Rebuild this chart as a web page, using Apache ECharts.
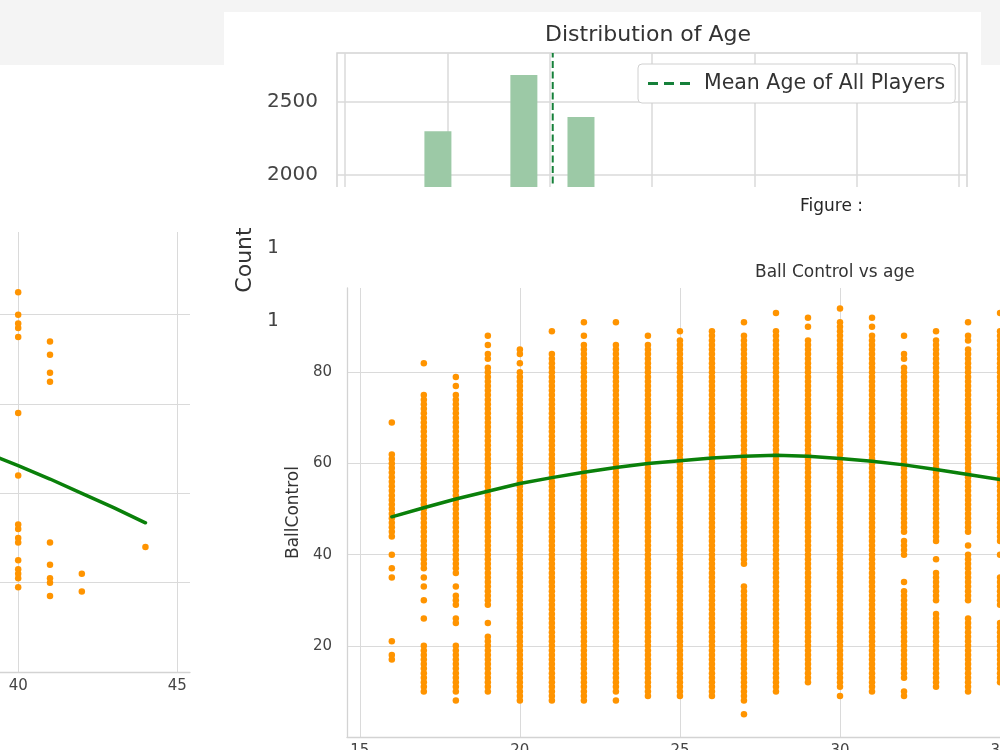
<!DOCTYPE html>
<html>
<head>
<meta charset="utf-8">
<title>Ball Control vs age</title>
<script src="https://cdn.jsdelivr.net/npm/echarts@6/dist/echarts.min.js"></script>
<style>
  html, body { margin: 0; padding: 0; background: #fff; }
  body { position: relative; width: 1000px; height: 750px; overflow: hidden; }
  .band { position: absolute; background: #f4f4f4; }
  .panel { position: absolute; background: #fff; }
  #band-top { left: 0; top: 0; width: 1000px; height: 12px; }
  #band-left { left: 0; top: 12px; width: 224px; height: 53px; }
  #band-right { left: 981px; top: 12px; width: 19px; height: 53px; }
  #left-chart { left: 0; top: 65px; width: 224px; height: 685px; z-index: 1; }
  #hist-chart { left: 224px; top: 12px; width: 757px; height: 500px; z-index: 2; }
  #scatter-chart { left: 277px; top: 187px; width: 723px; height: 563px; z-index: 3; }
</style>
</head>
<body>
<div class="band" id="band-top"></div>
<div class="band" id="band-left"></div>
<div class="band" id="band-right"></div>
<div class="panel" id="left-chart"></div>
<div class="panel" id="hist-chart"></div>
<div class="panel" id="scatter-chart"></div>

<script>
// ---- Distribution of Age (only the bins above the cut-off edge can be read)
const histBinCenters = [19.54, 23.74, 26.53];
const histCounts = [2300, 2685, 2397];
const meanAge = 25.15;
const histYMax = 2836;

// ---- Ball Control vs age
// one entry per age column; a [lo, hi] pair is a solid stripe of scores
const scatterAges = [16, 17, 18, 19, 20, 21, 22, 23, 24, 25, 26, 27, 28, 29, 30, 31, 32, 33, 34, 35, 40, 41, 42, 44];
const scatterReadings = [
  [[44, 62], 69, 40, 37, 35, 21, 18, 17],
  [82, [38, 75], 37, 35, 33, 30, 26, [10, 20]],
  [79, 77, [36, 75], 33, [29, 31], [25, 26], [10, 20], 8],
  [88, 86, [83, 84], [29, 81], 25, [10, 22]],
  [85, 84, 82, [8, 80]],
  [89, [8, 84]],
  [91, 88, [8, 86]],
  [91, [10, 86], 8],
  [88, [9, 86]],
  [89, [9, 87]],
  [[9, 89]],
  [91, [38, 88], [8, 33], 5],
  [93, [10, 89]],
  [92, 90, [12, 87]],
  [94, [11, 91], 9],
  [92, 90, 88, 87, [10, 86]],
  [88, [83, 84], [45, 81], [40, 43], 34, [13, 32], [9, 10]],
  [89, [43, 87], 39, [30, 36], [11, 27]],
  [91, 88, 87, [45, 85], 42, [30, 40], [10, 26]],
  [93, [43, 89], 40, [29, 35], [12, 25]],
  [85, 80, 78, 77, 75, 58, 44, 33, 32, 30, 29, 25, 23, 22, 21, 19],
  [74, 71, 67, 65, 29, 24, 21, 20, 17],
  [22, 18],
  [28]
];
// order-2 fit line
const fitAges = [16, 17, 18, 19, 20, 21, 22, 23, 24, 25, 26, 27, 28, 29, 30, 31, 32, 33, 34, 35, 39, 40, 41, 42, 43, 44];
const fitValues = [48.3, 50.3, 52.2, 53.9, 55.6, 56.9, 58.1, 59.1, 60, 60.6, 61.2, 61.6, 61.8, 61.6, 61.1, 60.5, 59.7, 58.7, 57.6, 56.5, 49.0, 46.2, 43.2, 40.0, 36.8, 33.4];

const ageMin = 14.6;
const ageMax = 45.4;
const ballMax = 98.5;

const FONT = 'DejaVu Sans';
const GRID_COLOR = '#dadada';
const ORANGE = '#ff9400';
const GREEN = '#0a800a';

function expandReadings(ages, readings) {
  const pts = [];
  ages.forEach((age, i) => {
    readings[i].forEach(r => {
      if (Array.isArray(r)) {
        for (let v = r[0]; v <= r[1]; v++) pts.push([age, v]);
      } else {
        pts.push([age, r]);
      }
    });
  });
  return pts;
}

const scatterPoints = expandReadings(scatterAges, scatterReadings);
const fitPoints = fitAges.map((a, i) => [a, fitValues[i]]);

// same figure is shown twice in the collage, at two crops
function ballControlOption(grid, withTitle) {
  return {
    animation: false,
    textStyle: { fontFamily: FONT },
    title: withTitle ? [
      { text: 'Figure :', left: 523, top: 11, padding: 0,
        textStyle: { fontSize: 17, fontWeight: 'normal', color: '#262626', fontFamily: FONT } },
      { text: 'Ball Control vs age', left: 478, top: 77, padding: 0,
        textStyle: { fontSize: 17, fontWeight: 'normal', color: '#333', fontFamily: FONT } }
    ] : [],
    grid: Object.assign({ containLabel: false, outerBoundsMode: 'none' }, grid),
    xAxis: {
      type: 'value',
      min: ageMin,
      max: ageMax,
      axisLine: { show: true, lineStyle: { color: '#d3d3d3', width: 1.3 } },
      axisTick: { show: false },
      axisLabel: { color: '#444', fontSize: 15, margin: 7, showMinLabel: false, showMaxLabel: false },
      splitLine: { show: true, showMinLine: false, showMaxLine: false, lineStyle: { color: GRID_COLOR, width: 1 } }
    },
    yAxis: {
      type: 'value',
      min: 0,
      max: ballMax,
      interval: 20,
      name: 'BallControl',
      nameLocation: 'middle',
      nameGap: 44,
      nameTextStyle: { fontSize: 17, color: '#333' },
      axisLine: { show: true, lineStyle: { color: '#d3d3d3', width: 1.3 } },
      axisTick: { show: false },
      axisLabel: { color: '#444', fontSize: 15, margin: 15, showMinLabel: false, showMaxLabel: false },
      splitLine: { show: true, showMinLine: false, showMaxLine: false, lineStyle: { color: GRID_COLOR, width: 1 } }
    },
    series: [
      {
        type: 'scatter',
        data: scatterPoints,
        symbolSize: 6.5,
        itemStyle: { color: ORANGE, opacity: 1 },
        z: 2
      },
      {
        type: 'line',
        data: fitPoints,
        symbol: 'none',
        smooth: false,
        lineStyle: { color: GREEN, width: 3.5, cap: 'round', join: 'round' },
        z: 3
      }
    ]
  };
}

const histOption = {
  animation: false,
  textStyle: { fontFamily: FONT },
  title: {
    text: 'Distribution of Age', left: 321, top: 12, padding: 0,
    textStyle: { fontSize: 22, fontWeight: 'normal', color: '#333', fontFamily: FONT }
  },
  legend: {
    left: 414,
    top: 52,
    data: [{ name: 'Mean Age of All Players', icon: 'path://M0 0H10V3H0ZM16 0H26V3H16ZM32 0H42V3H32Z' }],
    itemWidth: 42,
    itemHeight: 3,
    padding: [9, 10, 9, 10],
    borderColor: '#d0d0d0',
    borderWidth: 1,
    borderRadius: 4,
    backgroundColor: '#fff',
    textStyle: { fontSize: 20.5, color: '#333', padding: [0, 0, 0, 9] }
  },
  grid: {
    left: 113, right: 14, top: 41, bottom: 45,
    show: true, borderColor: '#d4d4d4', borderWidth: 1.5,
    containLabel: false, outerBoundsMode: 'none'
  },
  xAxis: {
    type: 'value',
    min: 14.61,
    max: 45.39,
    axisLine: { show: false },
    axisTick: { show: false },
    axisLabel: { fontSize: 20, color: '#444', showMinLabel: false, showMaxLabel: false },
    splitLine: { show: true, showMinLine: false, showMaxLine: false, lineStyle: { color: GRID_COLOR, width: 1.5 } }
  },
  yAxis: {
    type: 'value',
    min: 0,
    max: histYMax,
    interval: 500,
    name: 'Count',
    nameLocation: 'middle',
    nameGap: 70,
    nameTextStyle: { fontSize: 22, color: '#333' },
    axisLine: { show: false },
    axisTick: { show: false },
    axisLabel: { fontSize: 20, color: '#444', margin: 19, showMaxLabel: false, formatter: v => String(v) },
    splitLine: { show: true, showMinLine: false, showMaxLine: false, lineStyle: { color: GRID_COLOR, width: 1.5 } }
  },
  series: [
    {
      type: 'bar',
      name: 'Age',
      data: histBinCenters.map((c, i) => [c, histCounts[i]]),
      barWidth: 27,
      itemStyle: { color: '#9cc9a6' }
    },
    {
      type: 'line',
      name: 'Mean Age of All Players',
      data: [[meanAge, 0], [meanAge, histYMax]],
      symbol: 'none',
      color: '#16803a',
      lineStyle: { color: '#16803a', width: 2, type: [7, 3.5] },
      z: 4
    }
  ]
};

const leftChart = echarts.init(document.getElementById('left-chart'));
leftChart.setOption(ballControlOption({ left: -790, right: 34, top: 167, bottom: 78 }, false));

const histChart = echarts.init(document.getElementById('hist-chart'));
histChart.setOption(histOption);

const scatterChart = echarts.init(document.getElementById('scatter-chart'));
scatterChart.setOption(ballControlOption({ left: 70, right: -333, top: 101, bottom: 13 }, true));
</script>
</body>
</html>
